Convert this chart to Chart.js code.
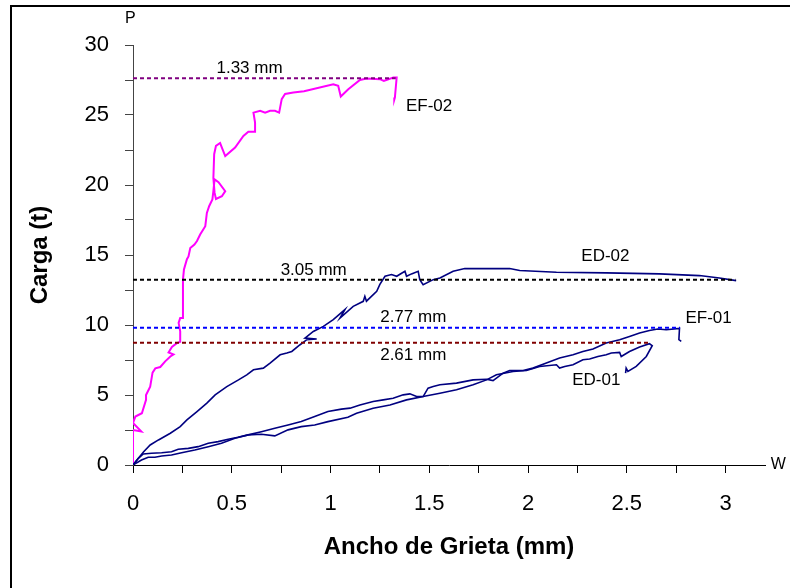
<!DOCTYPE html>
<html>
<head>
<meta charset="utf-8">
<script src="https://cdn.jsdelivr.net/npm/chart.js@4"></script>
<style>
  html, body { margin: 0; padding: 0; background: #fff; }
</style>
</head>
<body>
<canvas id="chart" width="790" height="588"></canvas>
<script>
// crack width (mm) vs load (t)
const ef02W = [
  0, 0, 0.042, 0, 0.012, 0.045, 0.066, 0.066, 0.087, 0.099,
  0.113, 0.138, 0.163, 0.189, 0.205, 0.18, 0.197, 0.222, 0.239, 0.239,
  0.231, 0.239, 0.253, 0.253, 0.258, 0.273, 0.281, 0.29, 0.311, 0.324,
  0.34, 0.366, 0.374, 0.386, 0.402, 0.407, 0.413, 0.433, 0.467, 0.45,
  0.42, 0.413, 0.407, 0.411, 0.42, 0.441, 0.45, 0.467, 0.517, 0.559,
  0.584, 0.618, 0.618, 0.61, 0.644, 0.669, 0.694, 0.719, 0.74, 0.753,
  0.77, 0.812, 0.866, 1.014, 1.039, 1.052, 1.09, 1.149, 1.183, 1.25,
  1.27, 1.318, 1.335, 1.326, 1.323
];
const ef02P = [
  0, 2.5, 2.4, 3.0, 3.46, 3.7, 4.65, 5.0, 5.6, 6.6,
  6.9, 7.0, 7.4, 7.75, 7.9, 8.04, 8.43, 8.7, 8.8, 9.54,
  10.15, 10.5, 10.5, 13.24, 13.96, 14.7, 14.9, 15.5, 15.75, 16.0,
  16.46, 17.06, 18.0, 18.5, 18.97, 19.56, 20.4, 20.2, 19.56, 19.2,
  19.0, 19.45, 20.5, 22.2, 22.8, 23.0, 22.67, 22.07, 22.67, 23.5,
  23.8, 23.8, 24.46, 25.17, 25.3, 25.17, 25.3, 25.3, 25.17, 26.13,
  26.5, 26.6, 26.7, 27.2, 27.08, 26.32, 26.84, 27.5, 27.6, 27.56,
  27.44, 27.68, 27.68, 26.25, 26.1
];

const ed02W = [
  0, 0.02, 0.054, 0.087, 0.129, 0.189, 0.239, 0.273, 0.324, 0.374,
  0.416, 0.475, 0.534, 0.576, 0.61, 0.66, 0.694, 0.745, 0.779, 0.804,
  0.846, 0.88, 0.93, 0.871, 0.913, 0.964, 1.014, 1.073, 1.048, 1.115,
  1.166, 1.174, 1.182, 1.234, 1.25, 1.276, 1.309, 1.335, 1.36, 1.377,
  1.385, 1.41, 1.444, 1.452, 1.469, 1.52, 1.554, 1.621, 1.68, 1.907,
  1.958, 2.144, 2.396, 2.666, 2.868, 2.969, 3.054
];
const ed02P = [
  0, 0.36, 0.95, 1.43, 1.79, 2.27, 2.74, 3.22, 3.82, 4.42,
  5.01, 5.6, 6.08, 6.44, 6.8, 6.92, 7.28, 7.87, 8.0, 8.11,
  8.59, 8.95, 9.0, 9.07, 9.54, 9.9, 10.38, 11.1, 10.5, 11.33,
  11.69, 12.05, 11.7, 12.4, 12.9, 13.48, 13.6, 13.48, 13.7, 13.84,
  13.48, 13.65, 13.84, 13.24, 12.88, 13.24, 13.36, 13.84, 14.03, 14.03,
  13.89, 13.77, 13.72, 13.65, 13.53, 13.36, 13.17
];

const ed01W = [
  0, 0.027, 0.052, 0.094, 0.145, 0.195, 0.229, 0.28, 0.33, 0.381,
  0.431, 0.482, 0.532, 0.583, 0.65, 0.718, 0.785, 0.852, 0.92, 0.987,
  1.055, 1.099, 1.149, 1.216, 1.267, 1.317, 1.368, 1.402, 1.436, 1.469,
  1.554, 1.638, 1.722, 1.79, 1.84, 1.924, 1.992, 2.059, 2.144, 2.16,
  2.186, 2.228, 2.278, 2.312, 2.354, 2.396, 2.422, 2.464, 2.472, 2.514,
  2.565, 2.615, 2.629, 2.599, 2.548, 2.506, 2.497, 2.494
];
const ed01P = [
  0, 0.48, 0.79, 0.84, 0.88, 0.95, 1.12, 1.19, 1.31, 1.55,
  1.67, 1.84, 1.98, 2.15, 2.38, 2.63, 2.86, 3.1, 3.46, 3.82,
  3.99, 4.06, 4.29, 4.53, 4.65, 4.77, 5.01, 5.08, 4.89, 4.89,
  5.13, 5.37, 5.73, 6.08, 6.44, 6.68, 6.75, 7.04, 7.16, 6.92,
  7.04, 7.16, 7.52, 7.57, 7.75, 7.87, 8.0, 8.04, 7.75, 8.11,
  8.43, 8.66, 8.52, 7.75, 7.04, 6.68, 6.92, 6.56
];

const ef01W = [
  0, 0.043, 0.077, 0.111, 0.145, 0.195, 0.246, 0.313, 0.381, 0.448,
  0.516, 0.583, 0.65, 0.718, 0.785, 0.852, 0.92, 0.987, 1.088, 1.132,
  1.216, 1.301, 1.385, 1.469, 1.494, 1.52, 1.554, 1.638, 1.722, 1.79,
  1.823, 1.874, 1.907, 1.975, 2.025, 2.093, 2.16, 2.228, 2.278, 2.329,
  2.396, 2.464, 2.514, 2.565, 2.615, 2.657, 2.7, 2.767, 2.764, 2.776
];
const ef01P = [
  0, 0.36, 0.55, 0.55, 0.64, 0.72, 0.88, 1.07, 1.31, 1.55,
  1.91, 2.15, 2.2, 2.08, 2.51, 2.74, 2.86, 3.1, 3.41, 3.7,
  4.06, 4.29, 4.65, 4.89, 5.49, 5.6, 5.73, 5.85, 6.08, 6.13,
  6.03, 6.56, 6.75, 6.75, 6.92, 7.28, 7.64, 7.87, 8.11, 8.28,
  8.71, 8.95, 9.18, 9.43, 9.61, 9.71, 9.66, 9.75, 8.95, 8.83
];

// max-load markers (dashed lines from the P axis)
const peakLabels = ['1.33 mm', '3.05 mm', '2.77 mm', '2.61 mm'];
const peakW = [1.33, 3.05, 2.77, 2.61];
const peakP = [27.63, 13.24, 9.8, 8.73];
const peakColors = ['#800080', '#000000', '#0000ff', '#800000'];

const FONT = 'Arial, "Liberation Sans", sans-serif';

const toPoints = (w, p) => w.map((v, i) => ({ x: v, y: p[i] }));

const curve = (label, w, p, color, width) => ({
    label: label,
    data: toPoints(w, p),
    showLine: true,
    borderColor: color,
    borderWidth: width,
    pointRadius: 0,
    fill: false
});

const peakLines = peakW.map((w, i) => ({
    label: peakLabels[i],
    data: [{ x: 0, y: peakP[i] }, { x: w, y: peakP[i] }],
    showLine: true,
    borderColor: peakColors[i],
    borderWidth: 2,
    borderDash: [4, 3],
    pointRadius: 0,
    fill: false
}));

const notes = {
    id: 'notes',
    beforeDraw(chart) {
        const ctx = chart.ctx;
        ctx.save();
        ctx.fillStyle = '#fff';
        ctx.fillRect(0, 0, chart.width, chart.height);
        ctx.restore();
    },
    afterDraw(chart) {
        const { ctx, scales: { x, y } } = chart;
        ctx.save();
        // outer frame (only left and top edges are visible)
        ctx.strokeStyle = '#000';
        ctx.lineWidth = 2;
        ctx.beginPath();
        ctx.moveTo(11, chart.height);
        ctx.lineTo(11, 6);
        ctx.lineTo(chart.width, 6);
        ctx.stroke();

        ctx.fillStyle = '#000';
        ctx.textBaseline = 'middle';
        const put = (text, wx, py, align, size) => {
            ctx.font = size + 'px ' + FONT;
            ctx.textAlign = align;
            ctx.fillText(text, x.getPixelForValue(wx), y.getPixelForValue(py));
        };
        put(peakLabels[0], 0.59, 28.35, 'center', 17);
        put(peakLabels[1], 0.915, 13.9, 'center', 17);
        put(peakLabels[2], 1.419, 10.56, 'center', 17);
        put(peakLabels[3], 1.419, 7.85, 'center', 17);
        put('EF-02', 1.382, 25.65, 'left', 17);
        put('ED-02', 2.392, 14.89, 'center', 17);
        put('EF-01', 2.797, 10.5, 'left', 17);
        put('ED-01', 2.346, 6.08, 'center', 17);
        put('P', -0.014, 31.9, 'center', 16);
        put('W', 3.267, 0, 'center', 16);
        ctx.restore();
    }
};

new Chart(document.getElementById('chart'), {
    type: 'scatter',
    data: {
        datasets: [
            ...peakLines,
            curve('ED-01', ed01W, ed01P, '#000080', 1.6),
            curve('EF-01', ef01W, ef01P, '#000080', 1.6),
            curve('ED-02', ed02W, ed02P, '#000080', 1.6),
            curve('EF-02', ef02W, ef02P, '#ff00ff', 2)
        ]
    },
    options: {
        responsive: false,
        animation: false,
        layout: { padding: { left: 0, right: 25, top: 45, bottom: 0 } },
        plugins: {
            legend: { display: false },
            tooltip: { enabled: false }
        },
        scales: {
            x: {
                type: 'linear',
                min: 0,
                max: 3.2,
                afterFit: (s) => { s.height = 123; },
                border: { display: true, color: '#000', width: 1 },
                grid: { drawOnChartArea: false, tickLength: 8, color: '#000' },
                ticks: {
                    stepSize: 0.25,
                    includeBounds: false,
                    autoSkip: false,
                    maxRotation: 0,
                    padding: 18,
                    color: '#000',
                    font: { family: FONT, size: 22 },
                    callback: (v) => Math.abs(v * 2 - Math.round(v * 2)) < 1e-6 ? String(v) : ''
                },
                title: {
                    display: true,
                    text: 'Ancho de Grieta (mm)',
                    color: '#000',
                    padding: { top: 0, bottom: 26.6 },
                    font: { family: FONT, size: 24, weight: 'bold' }
                }
            },
            y: {
                type: 'linear',
                min: 0,
                max: 30,
                afterFit: (s) => { s.width = 133; },
                border: { display: true, color: '#444', width: 1 },
                grid: { drawOnChartArea: false, tickLength: 8, color: '#444' },
                ticks: {
                    stepSize: 2.5,
                    autoSkip: false,
                    padding: 16,
                    color: '#000',
                    font: { family: FONT, size: 22 },
                    callback: (v) => v % 5 === 0 ? String(v) : ''
                },
                title: {
                    display: true,
                    text: 'Carga (t)',
                    color: '#000',
                    padding: { top: 25.6, bottom: 0 },
                    font: { family: FONT, size: 24, weight: 'bold' }
                }
            }
        }
    },
    plugins: [notes]
});
</script>
</body>
</html>
